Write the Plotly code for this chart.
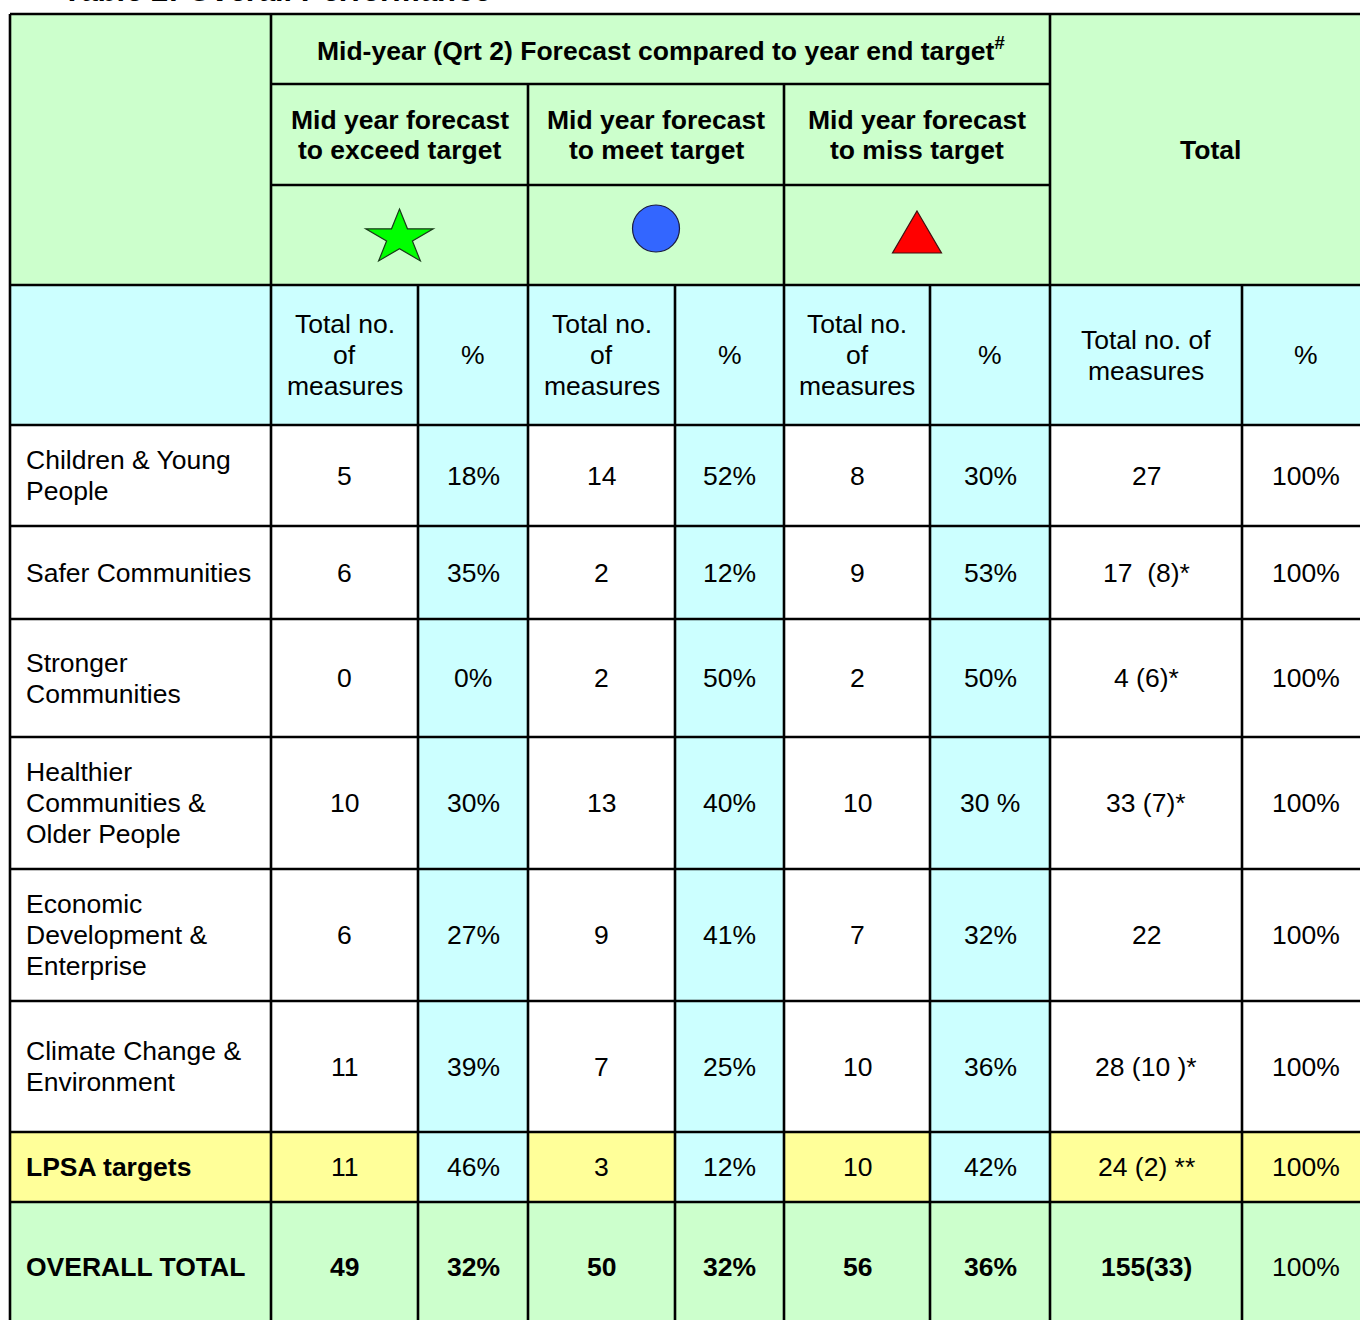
import numpy as np
import plotly.graph_objects as go

# ---------------- data ----------------
title = "Table 2: Overall Performance"
group_header = "Mid-year (Qrt 2) Forecast compared to year end target<sup>#</sup>"
sub_headers = ["Mid year forecast\nto exceed target",
               "Mid year forecast\nto meet target",
               "Mid year forecast\nto miss target"]
total_header = "Total"
col_headers = ["Total no.\nof\nmeasures", "%",
               "Total no.\nof\nmeasures", "%",
               "Total no.\nof\nmeasures", "%",
               "Total no. of\nmeasures", "%"]

categories = ["Children & Young\nPeople",
              "Safer Communities",
              "Stronger\nCommunities",
              "Healthier\nCommunities &\nOlder People",
              "Economic\nDevelopment &\nEnterprise",
              "Climate Change &\nEnvironment",
              "LPSA targets",
              "OVERALL TOTAL"]
exceed_n = [5, 6, 0, 10, 6, 11, 11, 49]
exceed_pct = ["18%", "35%", "0%", "30%", "27%", "39%", "46%", "32%"]
meet_n = [14, 2, 2, 13, 9, 7, 3, 50]
meet_pct = ["52%", "12%", "50%", "40%", "41%", "25%", "12%", "32%"]
miss_n = [8, 9, 2, 10, 7, 10, 10, 56]
miss_pct = ["30%", "53%", "50%", "30 %", "32%", "36%", "42%", "36%"]
total_n = ["27", "17  (8)*", "4 (6)*", "33 (7)*", "22", "28 (10 )*", "24 (2) **", "155(33)"]
total_pct = ["100%", "100%", "100%", "100%", "100%", "100%", "100%", "100%"]
row_kind = ["body", "body", "body", "body", "body", "body", "lpsa", "total"]

# ---------------- layout geometry / styles ----------------
W, H = 1360, 1320
col_x = [10, 271, 418, 528, 675, 784, 930, 1050, 1242, 1370]
row_y = [14, 84, 185, 285, 425, 526, 619, 737, 869, 1001, 1132, 1202, 1332]
GREEN, CYAN, YELLOW, WHITE = "#CCFFCC", "#CCFFFF", "#FFFF99", "#FFFFFF"
FONT = "Liberation Sans, Arial, sans-serif"
FS = 26.5
LINE = 31

fig = go.Figure()
fig.add_trace(go.Scatter(x=[0, W], y=[0, H], mode="markers",
                         marker=dict(opacity=0), hoverinfo="skip", showlegend=False))

shapes = []


def rect(x0, y0, x1, y1, color):
    shapes.append(dict(type="rect", xref="x", yref="y", x0=x0, y0=y0, x1=x1, y1=y1,
                       fillcolor=color, line=dict(width=0), layer="below"))


def hline(y, x0, x1):
    shapes.append(dict(type="line", xref="x", yref="y", x0=x0, x1=x1, y0=y, y1=y,
                       line=dict(color="black", width=2.6)))


def vline(x, y0, y1):
    shapes.append(dict(type="line", xref="x", yref="y", x0=x, x1=x, y0=y0, y1=y1,
                       line=dict(color="black", width=2.6)))


def esc(s):
    s = s.replace("&", "&amp;")
    return s.replace("  ", " \u00a0")


def text(x, y, s, bold=False, anchor="center", size=FS, spacing=LINE, italic=False):
    lines = s.split("\n")
    n = len(lines)
    for i, ln in enumerate(lines):
        t = esc(ln) if "<sup>" not in ln else ln
        if italic:
            t = "<i>" + t + "</i>"
        if bold:
            t = "<b>" + t + "</b>"
        fig.add_annotation(x=x, y=y + (i - (n - 1) / 2) * spacing, xref="x", yref="y",
                           text=t, showarrow=False, xanchor=anchor, yanchor="middle",
                           font=dict(family=FONT, size=size, color="black"))


# ---- header fills ----
rect(col_x[0], row_y[0], col_x[1], row_y[3], GREEN)
rect(col_x[1], row_y[0], col_x[7], row_y[3], GREEN)
rect(col_x[7], row_y[0], col_x[9], row_y[3], GREEN)
rect(col_x[0], row_y[3], col_x[9], row_y[4], CYAN)

# ---- header texts ----
text((col_x[1] + col_x[7]) / 2, (row_y[0] + row_y[1]) / 2, group_header, bold=True, size=26.5)
for k, sh in enumerate(sub_headers):
    cx = (col_x[1 + 2 * k] + col_x[3 + 2 * k]) / 2
    text(cx, (row_y[1] + row_y[2]) / 2, sh, bold=True, spacing=30)
text((col_x[7] + col_x[9]) / 2, (row_y[0] + row_y[3]) / 2, total_header, bold=True)
for j, ch in enumerate(col_headers):
    cx = (col_x[1 + j] + col_x[2 + j]) / 2
    text(cx, (row_y[3] + row_y[4]) / 2, ch)

# ---- symbols ----
sym_y = (row_y[2] + row_y[3]) / 2
# star (exceed)
cx = (col_x[1] + col_x[3]) / 2
rx, ry = 35.5, 28.7
pts = []
for i in range(10):
    ang = -np.pi / 2 + i * np.pi / 5
    r = 1.0 if i % 2 == 0 else 0.382
    pts.append((cx + rx * r * np.cos(ang), sym_y + 2.7 + ry * r * np.sin(ang)))
path = "M " + " L ".join(f"{px:.2f} {py:.2f}" for px, py in pts) + " Z"
shapes.append(dict(type="path", xref="x", yref="y", path=path, fillcolor="#00FF00",
                   line=dict(color="#1a3a1a", width=1.2)))
# circle (meet)
cx = (col_x[3] + col_x[5]) / 2
shapes.append(dict(type="circle", xref="x", yref="y", x0=cx - 23.5, x1=cx + 23.5,
                   y0=sym_y - 30, y1=sym_y + 17, fillcolor="#3366FF",
                   line=dict(color="#1a1a40", width=1.2)))
# triangle (miss)
cx = (col_x[5] + col_x[7]) / 2
path = f"M {cx:.1f} {sym_y - 24} L {cx + 24.5:.1f} {sym_y + 18} L {cx - 24.5:.1f} {sym_y + 18} Z"
shapes.append(dict(type="path", xref="x", yref="y", path=path, fillcolor="#FF0000",
                   line=dict(color="#401010", width=1.2)))

# ---- body ----
for r in range(len(categories)):
    y0, y1 = row_y[4 + r], row_y[5 + r]
    kind = row_kind[r]
    vals = [categories[r], str(exceed_n[r]), exceed_pct[r], str(meet_n[r]), meet_pct[r],
            str(miss_n[r]), miss_pct[r], total_n[r], total_pct[r]]
    for c in range(9):
        if kind == "total":
            col = GREEN
        elif c in (2, 4, 6):
            col = CYAN
        elif kind == "lpsa":
            col = YELLOW
        else:
            col = WHITE
        rect(col_x[c], y0, col_x[c + 1], y1, col)
        bold = (kind == "total" and c != 8) or (kind == "lpsa" and c == 0)
        cy = (y0 + y1) / 2
        if c == 0:
            text(col_x[0] + 14, cy, vals[c], bold=bold, anchor="left")
        else:
            text((col_x[c] + col_x[c + 1]) / 2, cy, vals[c], bold=bold)

# ---- borders ----
for y in [row_y[0], row_y[3]] + row_y[4:12]:
    hline(y, col_x[0], col_x[9])
for y in [row_y[1], row_y[2]]:
    hline(y, col_x[1], col_x[7])
for x in [col_x[0], col_x[1], col_x[7]]:
    vline(x, row_y[0], row_y[12])
for x in [col_x[3], col_x[5]]:
    vline(x, row_y[1], row_y[12])
for x in [col_x[2], col_x[4], col_x[6], col_x[8]]:
    vline(x, row_y[3], row_y[12])

# ---- title (partly cut off at the top edge of the page, as in the reference) ----
fig.add_annotation(x=62, y=1 + 9.5 / H, xref="x", yref="paper", text="<b><i>" + title + "</i></b>",
                   showarrow=False, xanchor="left", yanchor="middle",
                   font=dict(family=FONT, size=31, color="black"))

fig.update_layout(
    width=W, height=H, margin=dict(l=0, r=0, t=0, b=0),
    paper_bgcolor="white", plot_bgcolor="white", shapes=shapes, showlegend=False,
    xaxis=dict(range=[0, W], visible=False, fixedrange=True),
    yaxis=dict(range=[H, 0], visible=False, fixedrange=True),
)
fig.write_html("out.html", config={"displayModeBar": False},
               post_script="document.body.style.margin='0px';document.body.style.overflow='hidden';")
